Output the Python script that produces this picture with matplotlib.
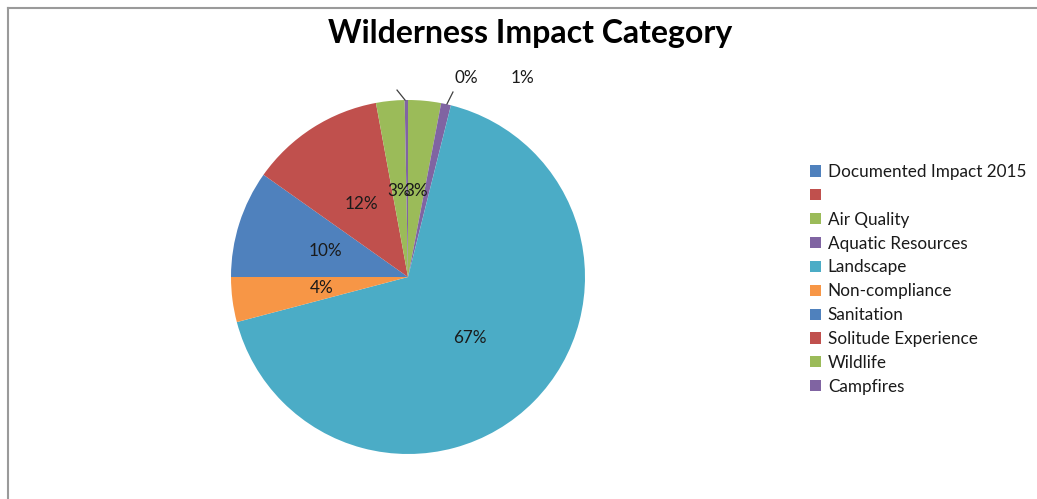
import matplotlib.pyplot as plt
from matplotlib.lines import Line2D

# impact categories (percent of documented impacts)
categories = ["Documented Impact 2015", "", "Air Quality", "Aquatic Resources",
              "Landscape", "Non-compliance", "Sanitation", "Solitude Experience",
              "Wildlife", "Campfires"]
shares = [0, 0, 3.0, 0.9, 67.0, 4.1, 9.8, 12.3, 2.6, 0.3]
colors = ["#4F81BD", "#C0504D", "#9BBB59", "#8064A2", "#4BACC6",
          "#F79646", "#4F81BD", "#C0504D", "#9BBB59", "#8064A2"]

plt.rcParams['font.family'] = ['Lato', 'DejaVu Sans']

W, H = 1037, 499
fig = plt.figure(figsize=(W / 100, H / 100), dpi=100)

# pie centre and radius in pixels
cx, cy, r = 408, 277, 177
ax = fig.add_axes([(cx - r) / W, (H - cy - r) / H, 2 * r / W, 2 * r / H])

wedges, texts, autotexts = ax.pie(
    shares, colors=colors, startangle=90, counterclock=False,
    autopct=lambda p: f'{p:.0f}%' if p > 0 else '',
    pctdistance=0.49, wedgeprops=dict(linewidth=0),
    textprops=dict(fontsize=12.3, color='#1a1a1a'))
ax.set_xlim(-1, 1)
ax.set_ylim(-1, 1)

# small slices get their labels moved above the pie
autotexts[9].set_position((0.328, 1.124))
autotexts[3].set_position((0.644, 1.124))
for t in (autotexts[9], autotexts[3]):
    t.set_clip_on(False)
ax.add_line(Line2D([-0.062, -0.017], [1.056, 1.0], color='#404040', lw=0.9, clip_on=False))
ax.add_line(Line2D([0.254, 0.220], [1.045, 0.977], color='#404040', lw=0.9, clip_on=False))

fig.text(530 / W, 1 - 33 / H, "Wilderness Impact Category", ha='center', va='center',
         fontsize=23, fontweight='bold', color='black')

fig.legend(wedges, categories, loc='upper left', bbox_to_anchor=(810 / W, 1 - 164 / H),
           frameon=False, fontsize=12.3, handlelength=0.62, handleheight=0.62,
           handletextpad=0.42, labelspacing=0.46, borderpad=0, borderaxespad=0,
           labelcolor='#1a1a1a')

# chart area border (top and left edges visible)
fig.add_artist(Line2D([7.5 / W, 1], [1 - 7.5 / H, 1 - 7.5 / H], color='#9a9a9a', lw=1.5))
fig.add_artist(Line2D([7.5 / W, 7.5 / W], [0, 1 - 7.5 / H], color='#9a9a9a', lw=1.5))

fig.savefig('out.png', dpi=100)
